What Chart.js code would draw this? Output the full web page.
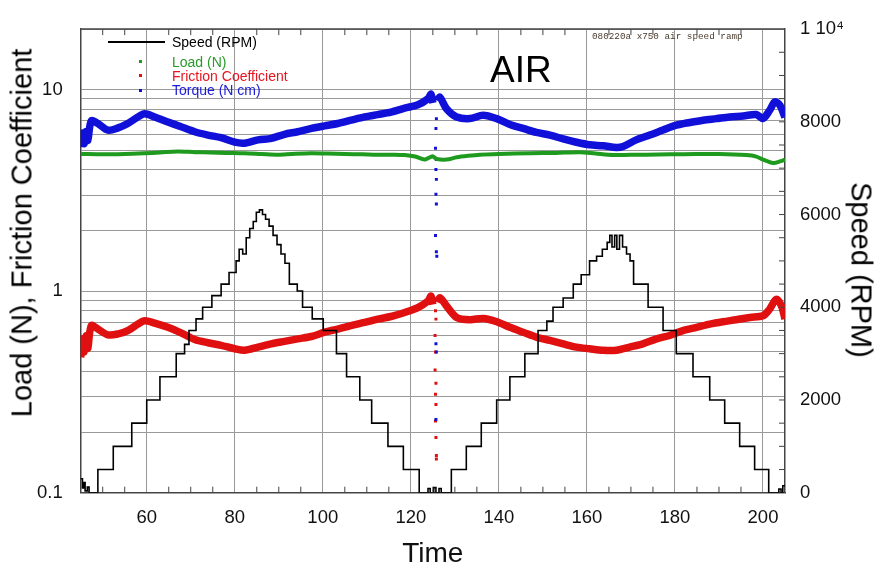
<!DOCTYPE html>
<html>
<head>
<meta charset="utf-8">
<script src="https://cdn.jsdelivr.net/npm/chart.js@4.4.0/dist/chart.umd.min.js"></script>
<style>
  body { margin: 0; background: #fff; font-family: 'Liberation Sans', Arial, sans-serif; }
  #wrap { position: relative; width: 880px; height: 571px; }
  .ov { position: absolute; white-space: nowrap; line-height: 1; }
  .mid { transform: translateY(-50%); }
  .dot { position: absolute; width: 3px; height: 3px; }
</style>
</head>
<body>
<div id="wrap">
  <canvas id="chart"></canvas>
  <div class="ov" style="left:22px; top:233px; font-size:29px; transform:translate(-50%,-50%) rotate(-90deg);">Load (N), Friction Coefficient</div>
  <div class="ov" style="left:861px; top:270px; font-size:29px; transform:translate(-50%,-50%) rotate(90deg);">Speed (RPM)</div>
  <div class="ov" style="left:490px; top:51px; font-size:37px;">AIR</div>
  <div class="ov mid" style="left:592px; top:37px; font-size:9.3px; font-family:'Liberation Mono', 'DejaVu Sans Mono', monospace; color:#4a3c30;">080220a x750 air speed ramp</div>
  <!-- legend -->
  <div style="position:absolute; left:108px; top:41px; width:57px; height:2px; background:#000;"></div>
  <div class="ov mid" style="left:172px; top:42px; font-size:14px;">Speed (RPM)</div>
  <div class="dot" style="left:139px; top:60px; background:#1e9a1e;"></div>
  <div class="ov mid" style="left:172px; top:62px; font-size:14px; color:#2a9a2a;">Load (N)</div>
  <div class="dot" style="left:139px; top:74px; background:#e01010;"></div>
  <div class="ov mid" style="left:172px; top:76px; font-size:14px; color:#e8141e;">Friction Coefficient</div>
  <div class="dot" style="left:139px; top:89px; background:#1010d8;"></div>
  <div class="ov mid" style="left:172px; top:90px; font-size:14px; color:#1a1ad8;">Torque (N cm)</div>
</div>
<script>
// colours
const blue = '#1010d8';
const red = '#e01010';
const green = '#1e9a1e';
const gridGray = '#999999';
const frame = '#444444';

// axis ticks
const xTicks = [60, 80, 100, 120, 140, 160, 180, 200];
const logGrid = [0.1, 0.2, 0.3, 0.4, 0.5, 0.6, 0.7, 0.8, 0.9, 1, 2, 3, 4, 5, 6, 7, 8, 9, 10, 20];
const logLabels = [0.1, 1, 10];
const rpmTicks = [0, 2000, 4000, 6000, 8000, 10000];

// Speed (RPM) staircase: time each level starts, and the level
const speedTime = [45.0, 45.4, 45.7, 46.0, 46.5, 46.9, 48.9, 52.4, 56.6, 60.0, 63.0, 66.7, 68.6, 69.6, 71.2, 72.7,
  74.8, 76.9, 78.7, 80.3, 81.0, 81.8, 82.6, 83.4, 84.2, 84.9, 85.6, 86.3, 87.0, 87.8, 88.7, 89.6, 90.5, 91.4,
  92.4, 94.2, 95.4, 97.6, 100.1, 103.1, 105.4, 108.4, 111.1, 114.8, 118.3, 121.9, 123.9, 124.4, 125.2, 125.7,
  126.4, 126.9, 129.2, 132.6, 136.0, 139.5, 142.5, 145.9, 148.9, 150.9, 152.3, 154.6, 156.9, 158.7, 160.6,
  162.2, 163.5, 164.6, 165.2, 165.7, 166.3, 166.8, 167.4, 168.1, 169.0, 169.8, 170.6, 173.9, 177.3, 180.3,
  184.1, 187.9, 191.3, 194.7, 198.1, 201.3, 203.6, 204.1, 204.5, 205.0];
const speedRpm = [300, 100, 220, 40, 120, 0, 500, 1000, 1500, 2000, 2500, 3000, 3200, 3500, 3750, 4000,
  4250, 4500, 4750, 5000, 5250, 5150, 5500, 5700, 5850, 6050, 6100, 6000, 5900, 5750, 5550, 5350, 5150, 4950,
  4500, 4350, 4000, 3750, 3500, 3000, 2500, 2000, 1500, 1000, 500, 0, 90, 0, 110, 0,
  90, 0, 500, 1000, 1500, 2000, 2500, 3000, 3500, 3700, 4000, 4200, 4500, 4700, 5000,
  5100, 5250, 5400, 5550, 5300, 5550, 5250, 5550, 5300, 5150, 5000, 4500, 4000, 3500, 3000,
  2500, 2000, 1500, 1000, 500, 0, 80, 0, 150, 150];

// Torque (N cm)
const torqueTime = [45.0, 45.4, 45.8, 46.2, 46.6, 47.4, 48.9, 51.2, 53.5, 55.7, 58.0, 59.5, 61.8, 64.8, 67.8,
  70.9, 73.9, 76.9, 80.0, 82.2, 85.3, 88.3, 91.3, 94.3, 97.4, 100.4, 103.4, 106.4, 109.5, 112.5, 115.5,
  118.6, 121.6, 123.9, 124.6, 125.0, 125.6, 126.1, 126.6, 128.1, 130.4, 133.4, 136.4, 139.5, 142.5, 145.5,
  148.5, 151.6, 154.6, 157.6, 160.6, 163.7, 166.7, 168.2, 171.2, 174.3, 177.3, 180.3, 183.4, 186.4, 189.4,
  192.4, 195.5, 198.5, 200.0, 201.5, 202.7, 203.8, 205.0];
const torque = [5.2, 6.1, 5.4, 6.2, 5.6, 7.0, 6.8, 6.3, 6.47, 6.8, 7.33, 7.6, 7.33, 6.92, 6.55,
  6.19, 5.96, 5.78, 5.49, 5.43, 5.64, 5.74, 6.01, 6.19, 6.43, 6.62, 6.80, 7.06, 7.33, 7.53, 7.75,
  8.11, 8.42, 9.02, 9.5, 8.6, null, 8.8, 9.18, 8.05, 7.33, 7.19, 7.47, 7.19, 6.72, 6.43,
  6.14, 5.96, 5.70, 5.49, 5.33, 5.27, 5.17, 5.23, 5.64, 5.96, 6.31, 6.67, 6.88, 7.06, 7.19,
  7.33, 7.41, 7.53, 7.2, 7.9, 8.7, 8.4, 7.3];

// Friction Coefficient
const frictionTime = [45.0, 45.4, 45.8, 46.2, 46.6, 47.4, 48.9, 51.2, 53.5, 55.7, 58.0, 59.5, 61.8, 64.8, 67.8,
  70.9, 73.9, 76.9, 80.0, 82.2, 85.3, 88.3, 91.3, 94.3, 97.4, 100.4, 103.4, 106.4, 109.5, 112.5, 115.5,
  118.6, 121.6, 123.9, 124.6, 125.0, 125.6, 126.1, 126.6, 128.1, 130.4, 133.4, 136.4, 139.5, 142.5, 145.5,
  148.5, 151.6, 154.6, 157.6, 160.6, 163.7, 166.7, 169.7, 172.7, 175.8, 178.8, 181.8, 184.9, 187.9, 190.9,
  193.9, 197.0, 200.0, 201.5, 203.0, 204.2, 205.0];
const friction = [0.47, 0.58, 0.50, 0.60, 0.52, 0.675, 0.649, 0.607, 0.614, 0.638, 0.687, 0.714, 0.695, 0.662, 0.621,
  0.576, 0.555, 0.539, 0.518, 0.509, 0.528, 0.548, 0.564, 0.580, 0.596, 0.626, 0.649, 0.675, 0.700, 0.727, 0.749,
  0.784, 0.829, 0.894, 0.946, 0.86, null, 0.88, 0.928, 0.845, 0.741, 0.722, 0.733, 0.706, 0.662, 0.626,
  0.592, 0.570, 0.548, 0.528, 0.518, 0.509, 0.509, 0.528, 0.548, 0.580, 0.603, 0.638, 0.662, 0.687, 0.706,
  0.722, 0.741, 0.755, 0.814, 0.911, 0.845, 0.727];

// Load (N)
const loadTime = [45, 50, 55, 59.5, 63, 67, 71, 74.6, 78, 82.2, 86, 89.8, 93, 97.4, 101, 105, 109, 112.5, 116,
  118.6, 121, 123.1, 124.3, 125.0, 125.8, 128.1, 130.4, 133, 135.7, 140, 147, 153, 158.4, 162, 166, 170,
  173.5, 179, 184.9, 190, 196.2, 198.5, 200, 202.3, 204, 205];
const load = [4.80, 4.78, 4.80, 4.84, 4.88, 4.94, 4.90, 4.88, 4.86, 4.84, 4.80, 4.76, 4.80, 4.84, 4.82, 4.80, 4.78, 4.76, 4.76,
  4.74, 4.66, 4.50, 4.62, 4.67, 4.54, 4.50, 4.62, 4.70, 4.76, 4.80, 4.84, 4.86, 4.90, 4.82, 4.74, 4.76,
  4.76, 4.78, 4.80, 4.80, 4.74, 4.66, 4.50, 4.33, 4.42, 4.50];

// isolated samples while the torque and friction fall at t ~ 125
const torqueDropTime = [125.8, 125.7, 125.6, 125.8, 125.7, 125.8, 125.7, 125.8, 125.6, 125.8, 125.9, 125.6, 125.7, 125.8, 125.7];
const torqueDrop = [7.19, 6.43, 5.13, 4.50, 4.02, 3.59, 3.03, 2.71, 1.89, 1.57, 1.49, 0.911, 0.548, 0.499, 0.231];
const frictionDropTime = [125.6, 125.7, 125.5, 125.6, 125.5, 125.7, 125.6, 125.7, 125.6, 125.7, 125.8, 125.8];
const frictionDrop = [0.80, 0.727, 0.603, 0.499, 0.406, 0.349, 0.308, 0.274, 0.227, 0.188, 0.153, 0.147];

const pts = (xs, ys) => xs.map((x, i) => ({ x: x, y: ys[i] }));

const frameTicks = {
  id: 'frameTicks',
  afterDraw(chart) {
    const { ctx, chartArea: a, scales } = chart;
    ctx.save();
    ctx.strokeStyle = frame;
    ctx.lineWidth = 1;
    ctx.beginPath();
    for (let t = 50; t < 205; t += 5) {
      if (t % 20 === 0) continue;
      const px = scales.x.getPixelForValue(t);
      ctx.moveTo(px, a.bottom); ctx.lineTo(px, a.bottom - 6);
      ctx.moveTo(px, a.top); ctx.lineTo(px, a.top + 6);
    }
    for (let r = 500; r < 10000; r += 500) {
      const py = scales.y2.getPixelForValue(r);
      ctx.moveTo(a.right, py); ctx.lineTo(a.right - 6, py);
    }
    ctx.stroke();
    ctx.lineWidth = 1.5;
    ctx.beginPath();
    ctx.moveTo(a.left, a.top); ctx.lineTo(a.right, a.top);
    ctx.stroke();
    ctx.restore();
  }
};

Chart.defaults.font.family = "'Liberation Sans', Arial, sans-serif";
Chart.defaults.color = '#111';

new Chart(document.getElementById('chart'), {
  type: 'scatter',
  data: {
    datasets: [
      { label: 'Speed (RPM)', data: pts(speedTime, speedRpm), yAxisID: 'y2', showLine: true, stepped: true,
        borderColor: '#000', borderWidth: 1.6, pointRadius: 0, order: 0 },
      { label: 'Load (N)', data: pts(loadTime, load), yAxisID: 'y', showLine: true, tension: 0.3,
        borderColor: green, borderWidth: 4, pointRadius: 0, order: 1 },
      { label: 'Friction Coefficient', data: pts(frictionTime, friction), yAxisID: 'y', showLine: true, tension: 0.3,
        borderColor: red, borderWidth: 7.5, pointRadius: 0, order: 1 },
      { label: 'Torque (N cm)', data: pts(torqueTime, torque), yAxisID: 'y', showLine: true, tension: 0.3,
        borderColor: blue, borderWidth: 7.5, pointRadius: 0, order: 1 },
      { label: 'Torque drop', data: pts(torqueDropTime, torqueDrop), yAxisID: 'y', pointStyle: 'rect',
        pointRadius: 2.1, backgroundColor: blue, borderWidth: 0, order: 1 },
      { label: 'Friction drop', data: pts(frictionDropTime, frictionDrop), yAxisID: 'y', pointStyle: 'rect',
        pointRadius: 2.1, backgroundColor: red, borderWidth: 0, order: 1 }
    ]
  },
  options: {
    responsive: true,
    maintainAspectRatio: false,
    animation: false,
    layout: { padding: { top: 22.7, left: 0, right: 0, bottom: 0 } },
    plugins: { legend: { display: false }, tooltip: { enabled: false } },
    scales: {
      x: {
        type: 'linear', min: 45, max: 205,
        afterBuildTicks: s => { s.ticks = xTicks.map(v => ({ value: v })); },
        afterFit: s => { s.height = 78.3; },
        ticks: { autoSkip: false, maxRotation: 0, padding: 14.5, font: { size: 18.5 } },
        grid: { color: gridGray, drawTicks: false },
        border: { color: frame, width: 1.5 },
        title: { display: true, text: 'Time', font: { size: 28 }, padding: { top: 0, bottom: 0 } }
      },
      y: {
        type: 'logarithmic', position: 'left', min: 0.1, max: 20,
        afterBuildTicks: s => { s.ticks = logGrid.map(v => ({ value: v })); },
        afterFit: s => { s.width = 80.7; },
        ticks: {
          autoSkip: false, padding: 18, font: { size: 18.5 },
          callback: v => logLabels.some(l => Math.abs(l - v) < 1e-9) ? String(v) : ''
        },
        grid: { color: gridGray, drawTicks: false },
        border: { color: frame, width: 1.5 }
      },
      y2: {
        type: 'linear', position: 'right', min: 0, max: 10000,
        afterBuildTicks: s => { s.ticks = rpmTicks.map(v => ({ value: v })); },
        afterFit: s => { s.width = 95; },
        ticks: {
          autoSkip: false, padding: 15, font: { size: 18.5 },
          callback: v => v === 10000 ? '1 10\u2074' : String(v)
        },
        grid: { display: false, drawTicks: false },
        border: { color: frame, width: 1.5 }
      }
    }
  },
  plugins: [frameTicks]
});
</script>
</body>
</html>
